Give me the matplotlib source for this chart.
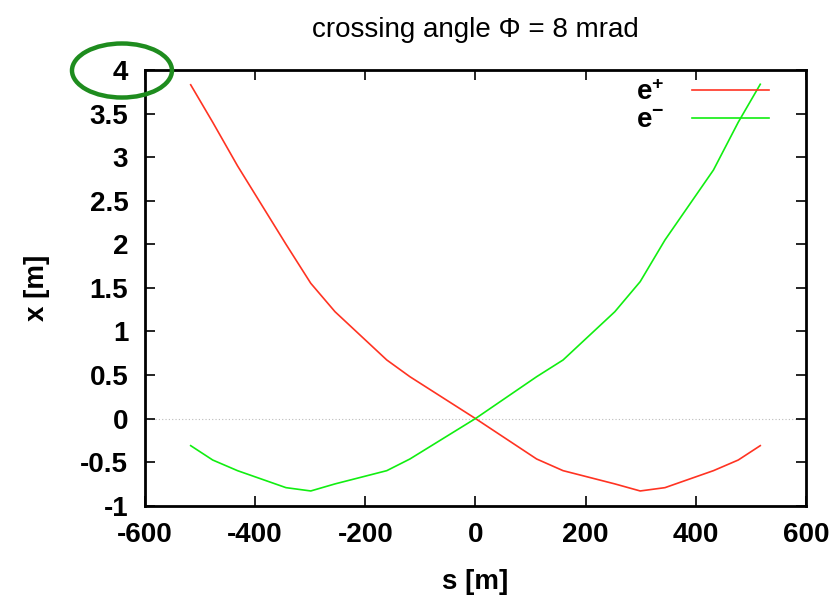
#importing the libraries
import matplotlib
matplotlib.use('Agg')
import matplotlib.pyplot as plt
from matplotlib.patches import Ellipse

plt.rcParams['font.family'] = ['Liberation Sans', 'DejaVu Sans']
plt.rcParams['mathtext.default'] = 'regular'

# beam orbit positions along the ring (s in m, x in m)
s_pos = [-517, -477, -432, -344, -299, -255, -161, -119, 0,
         111, 159, 253, 299, 344, 432, 477, 517]
x_positron = [3.83, 3.40, 2.90, 2.00, 1.552, 1.226, 0.672, 0.48, 0.0,
              -0.464, -0.598, -0.75, -0.831, -0.793, -0.598, -0.476, -0.311]
x_electron = [-0.311, -0.476, -0.598, -0.793, -0.831, -0.75, -0.598, -0.464, 0.0,
              0.48, 0.672, 1.226, 1.571, 2.049, 2.852, 3.40, 3.836]

x_ticks = [-600, -400, -200, 0, 200, 400, 600]
y_ticks = [-1, -0.5, 0, 0.5, 1, 1.5, 2, 2.5, 3, 3.5, 4]
y_labels = ['-1', '-0.5', '0', '0.5', '1', '1.5', '2', '2.5', '3', '3.5', '4']

fig = plt.figure(figsize=(8.36, 5.95), dpi=100)
ax = fig.add_axes([0.1734, 0.1501, 0.7907, 0.7323])

# dotted zero line
ax.axhline(0, color='#bbbbbb', lw=0.8, ls=(0, (1, 2)), zorder=1)

# positron line first, then electron, mirrored in s
ax.plot(s_pos, x_positron, color='#ff3322', lw=1.2, label='e$^{+}$')
ax.plot(s_pos[::-1], x_electron[::-1], color='#11ee11', lw=1.2, label='e$^{-}$')

ax.set_xlim(-600, 600)
ax.set_ylim(-1, 4)
ax.set_xticks(x_ticks)
ax.set_xticklabels([str(t) for t in x_ticks])
ax.set_yticks(y_ticks)
ax.set_yticklabels(y_labels)
ax.tick_params(direction='in', length=7, width=1.2, top=True, right=True,
               labelsize=20, pad=12)
for lab in ax.get_xticklabels() + ax.get_yticklabels():
    lab.set_fontweight('bold')
for sp in ax.spines.values():
    sp.set_linewidth(2)

ax.set_title('crossing angle \u03a6 = 8 mrad', fontsize=20, pad=24)
ax.set_xlabel('s [m]', fontsize=20, fontweight='bold', labelpad=15)
ax.set_ylabel('x [m]', fontsize=20, fontweight='bold', labelpad=22)

leg = ax.legend(loc='upper right', bbox_to_anchor=(0.9616, 1.002),
                frameon=False, markerfirst=False,
                handlelength=2.8, handletextpad=1.0,
                labelspacing=0.05, borderaxespad=0.0,
                prop={'weight': 'bold', 'size': 20})

# highlight ring around the top tick label
ring = Ellipse((0.1459, 0.8815), 0.1196, 0.0908, transform=fig.transFigure,
               fill=False, edgecolor='#1e8c1e', lw=3.2)
fig.add_artist(ring)

plt.savefig('out.png', dpi=100)
